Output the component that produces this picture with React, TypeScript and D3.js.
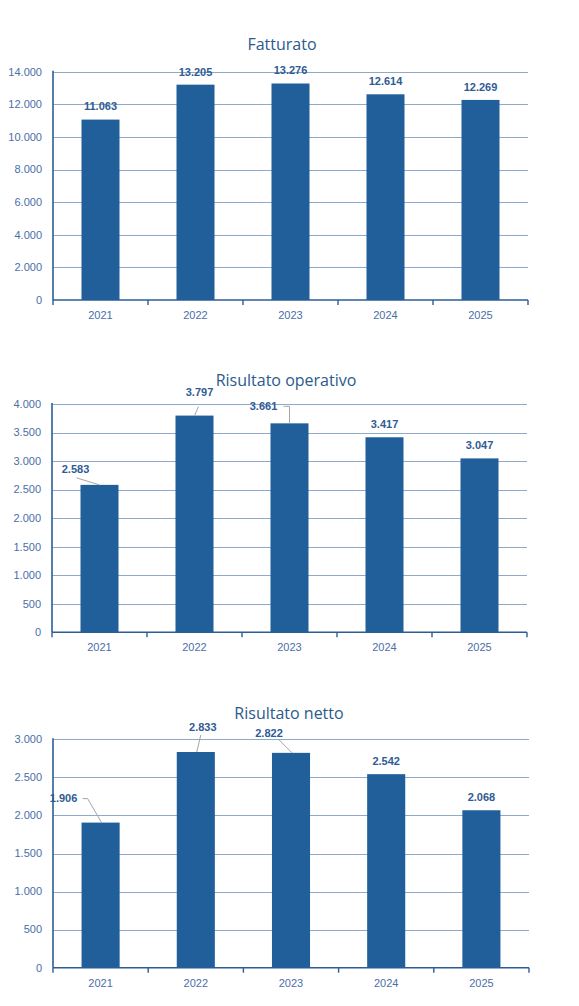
import { useEffect, useRef } from "react"
import * as d3 from "d3"

const years = ["2021", "2022", "2023", "2024", "2025"]
const fatturato = [11063, 13205, 13276, 12614, 12269]
const risultatoOperativo = [2583, 3797, 3661, 3417, 3047]
const risultatoNetto = [1906, 2833, 2822, 2542, 2068]
const titles = ["Fatturato", "Risultato operativo", "Risultato netto"]
const yMaxes = [14000, 4000, 3000]
const ySteps = [2000, 500, 500]

// label callouts: offset of label centre from bar-top centre, leader points relative to bar-top centre
type Callout = { dx: number; dy: number; leader: [number, number][] }
const calloutsOperativo: (Callout | null)[] = [
  { dx: -24, dy: -16, leader: [[-23, -7], [0, 0]] },
  { dx: 5, dy: -23, leader: [[4, -9], [0, 0]] },
  { dx: -26, dy: -17, leader: [[-6, -17], [0, -17], [0, 0]] },
  null,
  null,
]
const calloutsNetto: (Callout | null)[] = [
  { dx: -37, dy: -24, leader: [[-18, -24], [-13, -24], [1, 0]] },
  { dx: 7, dy: -25, leader: [[5, -17], [1, 0]] },
  { dx: -22, dy: -20, leader: [[-12, -13], [1, 0]] },
  null,
  null,
]

const itFormat = d3.formatLocale({ decimal: ",", thousands: ".", grouping: [3], currency: ["€", ""] }).format(",d")

const BAR = "#215f9a"
const AXIS = "#2a5d96"
const GRID = "#8eaacb"
const TICK_TEXT = "#4a6ea8"
const LABEL = "#2f5b94"
const TITLE = "#2b5a8c"

export default function App() {
  const svgRef = useRef<SVGSVGElement>(null)

  useEffect(() => {
    if (!svgRef.current) return
    const svg = d3.select(svgRef.current)
    svg.selectAll("*").remove()

    const width = 579
    const height = 1006

    svg.attr("width", width).attr("height", height).attr("viewBox", [0, 0, width, height])

    const charts = [
      { values: fatturato, top: 71.7, bottom: 300, left: 53, right: 528, titleX: 282, titleY: 44, callouts: [] as (Callout | null)[] },
      { values: risultatoOperativo, top: 404, bottom: 632.3, left: 52, right: 527, titleX: 286, titleY: 380, callouts: calloutsOperativo },
      { values: risultatoNetto, top: 739.3, bottom: 967.7, left: 53, right: 529, titleX: 289, titleY: 713, callouts: calloutsNetto },
    ]

    charts.forEach((c, ci) => {
      const g = svg.append("g")
      const x = d3.scaleBand<string>().domain(years).range([c.left, c.right]).padding(0)
      const y = d3.scaleLinear().domain([0, yMaxes[ci]]).range([c.bottom, c.top])
      const ticks = d3.range(0, yMaxes[ci] + 1, ySteps[ci])

      // title
      g.append("text")
        .attr("x", c.titleX)
        .attr("y", c.titleY)
        .attr("dy", "0.35em")
        .attr("text-anchor", "middle")
        .attr("font-family", "'Open Sans', sans-serif")
        .attr("font-size", 16)
        .attr("fill", TITLE)
        .text(titles[ci])

      // gridlines
      g.selectAll("line.grid")
        .data(ticks.filter((t) => t > 0))
        .enter()
        .append("line")
        .attr("x1", c.left)
        .attr("x2", c.right)
        .attr("y1", (d) => Math.round(y(d)) + 0.5)
        .attr("y2", (d) => Math.round(y(d)) + 0.5)
        .attr("stroke", GRID)
        .attr("stroke-width", 1.2)

      // y tick labels
      g.selectAll("text.ytick")
        .data(ticks)
        .enter()
        .append("text")
        .attr("x", c.left - 11)
        .attr("y", (d) => y(d))
        .attr("dy", "0.35em")
        .attr("text-anchor", "end")
        .attr("font-family", "'Liberation Sans', Arial, sans-serif")
        .attr("font-size", 11)
        .attr("fill", TICK_TEXT)
        .text((d) => itFormat(d))

      // bars
      const barW = x.bandwidth() * 0.4
      g.selectAll("rect")
        .data(c.values)
        .enter()
        .append("rect")
        .attr("x", (_, i) => x(years[i])! + x.bandwidth() / 2 - barW / 2)
        .attr("y", (d) => y(d))
        .attr("width", barW)
        .attr("height", (d) => c.bottom - y(d))
        .attr("fill", BAR)

      // axes lines
      g.append("line")
        .attr("x1", c.left)
        .attr("x2", c.left)
        .attr("y1", c.top - 1)
        .attr("y2", c.bottom)
        .attr("stroke", AXIS)
        .attr("stroke-width", 1.6)
      g.append("line")
        .attr("x1", c.left)
        .attr("x2", c.right)
        .attr("y1", c.bottom)
        .attr("y2", c.bottom)
        .attr("stroke", AXIS)
        .attr("stroke-width", 1.6)

      // bottom ticks at band boundaries
      const bounds = years.map((yr) => x(yr)!).concat([c.right])
      g.selectAll("line.xtick")
        .data(bounds)
        .enter()
        .append("line")
        .attr("x1", (d) => d)
        .attr("x2", (d) => d)
        .attr("y1", c.bottom)
        .attr("y2", c.bottom + 5)
        .attr("stroke", AXIS)
        .attr("stroke-width", 1.4)

      // year labels
      g.selectAll("text.year")
        .data(years)
        .enter()
        .append("text")
        .attr("x", (d) => x(d)! + x.bandwidth() / 2)
        .attr("y", c.bottom + 15)
        .attr("dy", "0.35em")
        .attr("text-anchor", "middle")
        .attr("font-family", "'Liberation Sans', Arial, sans-serif")
        .attr("font-size", 11)
        .attr("fill", TICK_TEXT)
        .text((d) => d)

      // data labels with optional leader lines
      c.values.forEach((v, i) => {
        const cx = x(years[i])! + x.bandwidth() / 2
        const cy = y(v)
        const co = c.callouts[i]
        if (co) {
          g.append("path")
            .attr("d", d3.line()(co.leader.map(([px, py]) => [cx + px, cy + py])))
            .attr("fill", "none")
            .attr("stroke", "#a6a6a6")
            .attr("stroke-width", 1)
        }
        g.append("text")
          .attr("x", cx + (co ? co.dx : 0))
          .attr("y", cy + (co ? co.dy : -13))
          .attr("dy", "0.35em")
          .attr("text-anchor", "middle")
          .attr("font-family", "'Liberation Sans', Arial, sans-serif")
          .attr("font-size", 11)
          .attr("font-weight", "bold")
          .attr("fill", LABEL)
          .text(itFormat(v))
      })
    })
  }, [])

  return (
    <div style={{ position: "absolute", left: 0, top: 0, background: "#fff" }}>
      <svg ref={svgRef} style={{ display: "block" }} />
    </div>
  )
}
